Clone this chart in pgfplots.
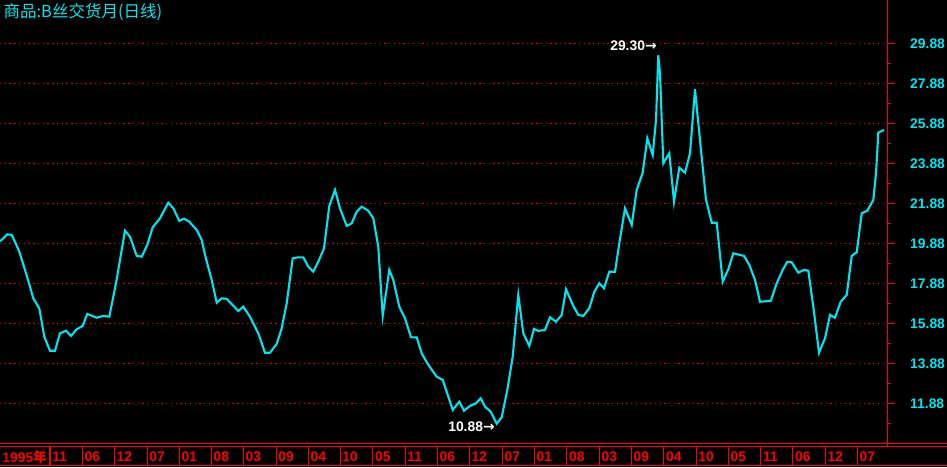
\documentclass[border=0pt]{standalone}
\usepackage{fontspec}
\setmainfont{Liberation Sans}
\newfontfamily\cjk{Noto Sans CJK SC}
\newfontfamily\sym{DejaVu Sans}
\usepackage{pgfplots}
\usepackage{pgfplotstable}
\pgfplotsset{compat=1.18}

\definecolor{lineCyan}{RGB}{0,230,240}
\definecolor{gridRed}{RGB}{230,0,0}
\newcommand{\tickfont}{\fontsize{7.9}{9}\selectfont\bfseries}

% position along the time axis (bar index) and price
\pgfplotstableread{
x y
0 20.00
1.7 20.07
7.3 20.35
11.7 20.32
15 19.98
19.3 19.48
25 18.57
30 17.73
33.3 17.15
39.3 16.65
44.3 15.23
50 14.53
55 14.53
60 15.40
66 15.53
71 15.27
76.7 15.60
82.7 15.77
87.3 16.37
96.7 16.18
103.3 16.27
109.3 16.23
116 17.90
125 20.53
130 20.23
136.7 19.27
141.7 19.23
147.3 19.82
152.7 20.70
160 21.15
168.3 21.93
173.3 21.65
179.3 21.02
184 21.13
189.3 20.98
196.7 20.57
201.7 20.07
205 19.32
211.7 18.07
216.7 16.93
221.7 17.15
226.7 17.12
238.3 16.52
243.3 16.73
250 16.23
258.3 15.40
265 14.43
270 14.43
276.7 14.87
281.7 15.65
286.7 16.90
292.7 19.15
298.3 19.20
303.3 19.20
308.3 18.73
313.3 18.48
318.3 18.98
324 19.65
329.3 21.77
335 22.57
340 21.65
346.7 20.77
351.7 20.90
356.7 21.48
361.7 21.73
368.3 21.53
373.3 21.15
378.3 19.73
382.7 16.27
389.3 18.57
393.3 18.07
399.3 16.73
405 16.15
411 15.20
416.7 15.20
421.7 14.40
427.3 13.90
436.7 13.23
442.7 13.07
448.3 12.23
452.7 11.57
459.3 11.98
464 11.53
470 11.77
476 11.90
480.7 12.15
485 11.73
490.7 11.48
496.7 10.88
501.7 11.20
507.3 12.57
512.7 14.23
518.3 17.32
523.3 15.40
529.3 14.77
534 15.62
538.3 15.52
545 15.57
550 16.20
556 15.98
561.7 16.32
566 17.60
573.3 16.77
578.3 16.32
583.3 16.27
589.3 16.65
594.3 17.48
599.3 17.90
604 17.65
609.3 18.48
615 18.48
619.3 19.90
625 21.65
631.7 20.82
636.7 22.57
642.7 23.43
647.3 25.15
652.7 24.32
656 26.07
658.3 29.30
660 28.40
663.3 23.90
669.3 24.40
674 21.98
679.3 23.68
685 23.43
690 24.40
695 27.60
697.3 26.40
706 22.07
711.7 20.93
716.7 20.93
722.7 17.98
728.3 18.60
733.3 19.40
744 19.27
749.3 18.82
755 18.07
760 16.98
770.7 17.02
776.7 17.90
782.7 18.57
787.3 18.98
791.7 18.95
798.3 18.43
804 18.57
808.3 18.53
813.3 16.73
819 14.43
825 15.15
830 16.32
835 16.18
840.7 16.98
846.7 17.32
851.7 19.27
856.7 19.45
861.7 21.40
867.3 21.53
873.3 22.07
876 23.40
878.3 25.43
884 25.57
}\silkdata

\begin{document}
\begin{tikzpicture}
\begin{scope}[x=0.02cm, y=0.02cm]
  \fill[black] (0,-24) rectangle (947,443);
\end{scope}
\begin{axis}[
    at={(0,0)}, anchor=south west,
    scale only axis,
    width=17.74cm, height=8.86cm,
    xmin=0, xmax=887,
    ymin=9.915, ymax=32.065,
    axis line style={draw=none},
    tick align=outside,
    major tick length=0.16cm,
    minor tick length=0.08cm,
    ytick pos=right, yticklabel pos=right,
    ytick={11.88,13.88,15.88,17.88,19.88,21.88,23.88,25.88,27.88,29.88},
    yticklabels={11.88,13.88,15.88,17.88,19.88,21.88,23.88,25.88,27.88,29.88},
    minor ytick={10.88,12.88,14.88,16.88,18.88,20.88,22.88,24.88,26.88,28.88},
    ytick style={red, line width=0.6pt},
    yticklabel style={text=lineCyan, font=\tickfont, anchor=west, xshift=0.18cm},
    xtick pos=bottom,
    xtick={0,50,82.3,114.3,147,179.3,211.3,243.3,276,308.3,340,372.7,405,437.3,469.3,502.3,534.3,566.7,599.3,631.3,663.7,696,728.3,760.7,792.7,825.3,857.3},
    xticklabels={1995{\cjk 年},11,06,12,07,01,08,03,09,04,10,05,11,06,12,07,01,08,03,09,04,10,05,11,06,12,07},
    xtick style={draw=none},
    xticklabel style={text=red, font=\tickfont, anchor=west, inner sep=0pt, xshift=0.04cm, yshift=-0.12cm},
    ymajorgrids,
    major grid style={gridRed, line width=0.8pt, dash pattern=on 0.8pt off 1.9pt},
]
\addplot[lineCyan, line width=1.2pt] table[x=x, y=y] {\silkdata};
\node[anchor=east, text=white, font=\tickfont, inner sep=0pt] at (axis cs:657,29.30) [yshift=0.2cm] {29.30{\sym →}};
\node[anchor=east, text=white, font=\tickfont, inner sep=0pt] at (axis cs:495,10.88) [yshift=-0.06cm] {10.88{\sym →}};
\end{axis}
\begin{scope}[x=0.02cm, y=0.02cm, red, line width=0.6pt]
  \draw (887,-3.5) -- (887,443);
  \draw (0,-0.5) -- (947,-0.5);
  \draw (0,-3.5) -- (947,-3.5);
  \draw (0,-22.5) -- (947,-22.5);
  \foreach \s in {50,82.3,114.3,147,179.3,211.3,243.3,276,308.3,340,372.7,405,437.3,469.3,502.3,534.3,566.7,599.3,631.3,663.7,696,728.3,760.7,792.7,825.3,857.3}
    \draw (\s,-3.5) -- (\s,-22.5);
  \node[anchor=west, text=lineCyan, font=\cjk\fontsize{9.4}{10}\selectfont, inner sep=0pt] at (3,431) {商品:B丝交货月(日线)};
\end{scope}
\pgfresetboundingbox
\path (0,-0.48) rectangle (18.94,8.86);
\end{tikzpicture}
\end{document}
